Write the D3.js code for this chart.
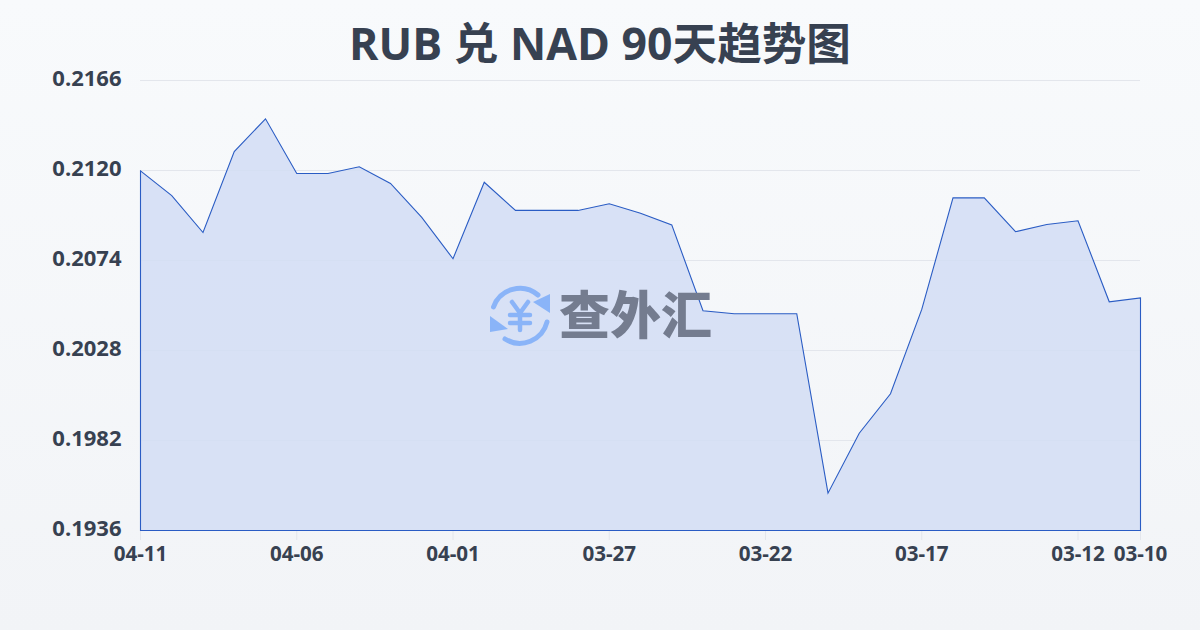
<!DOCTYPE html>
<html><head><meta charset="utf-8">
<style>html,body{margin:0;padding:0;width:1200px;height:630px;overflow:hidden}svg{display:block}</style>
<script src="https://cdn.jsdelivr.net/npm/d3@7/dist/d3.min.js"></script></head><body>
<svg id="c" width="1200" height="630"></svg>
<script>
const titleText = "RUB 兑 NAD 90天趋势图";
const dates = ["04-11","04-10","04-09","04-08","04-07","04-06","04-05","04-04","04-03","04-02","04-01","03-31","03-30","03-29","03-28","03-27","03-26","03-25","03-24","03-23","03-22","03-21","03-20","03-19","03-18","03-17","03-16","03-15","03-14","03-13","03-12","03-11","03-10"];
const rates = [0.21198,0.21072,0.20883,0.21297,0.21464,0.21185,0.21185,0.21219,0.21134,0.20960,0.20749,0.21140,0.20996,0.20996,0.20996,0.21030,0.20982,0.20922,0.20483,0.20468,0.20468,0.20468,0.19551,0.19857,0.20059,0.20490,0.21060,0.21060,0.20887,0.20924,0.20943,0.20529,0.20549];
const yTicks = [0.1936,0.1982,0.2028,0.2074,0.2120,0.2166];
const xTicks = ["04-11","04-06","04-01","03-27","03-22","03-17","03-12","03-10"];
const logoText = "查外汇";

const svg = d3.select("#c");
const defs = svg.append("defs");
const bg = defs.append("linearGradient").attr("id","bg").attr("x1",0).attr("y1",0).attr("x2",0).attr("y2",1);
bg.append("stop").attr("offset",0).attr("stop-color","#f8fafc");
bg.append("stop").attr("offset",1).attr("stop-color","#f2f4f7");
svg.append("rect").attr("width",1200).attr("height",630).attr("fill","url(#bg)");

const latin = "'Open Sans','Noto Sans CJK SC',sans-serif";
const ink = "#374151";
svg.append("text").attr("x",600).attr("y",60).attr("text-anchor","middle")
  .attr("font-family",latin).attr("font-weight",700)
  .attr("font-size",44.6).attr("fill",ink).text(titleText);

const x = d3.scalePoint().domain(dates).range([140,1140]);
const y = d3.scaleLinear().domain([0.1936,0.2166]).range([530,80]);

// grid
svg.append("g").selectAll("line").data(yTicks).join("line")
  .attr("x1",140).attr("x2",1140).attr("y1",d=>y(d)+0.5).attr("y2",d=>y(d)+0.5)
  .attr("stroke","#e3e6ec").attr("stroke-width",1);
// ticks
svg.append("g").selectAll("line").data(xTicks).join("line")
  .attr("x1",d=>x(d)+0.5).attr("x2",d=>x(d)+0.5).attr("y1",530).attr("y2",540)
  .attr("stroke","#e3e6ec").attr("stroke-width",1);

const xs = dates.map(d=>x(d)+0.5);
const area = d3.area().x((d,i)=>xs[i]).y0(y(0.1936)+0.5).y1(d=>y(d)+0.5);
svg.append("path").datum(rates).attr("d",area)
  .attr("fill","#d2ddf5").attr("fill-opacity",0.85)
  .attr("stroke","#2a5cc4").attr("stroke-width",1.1).attr("stroke-linejoin","miter");

// y labels
svg.append("g").selectAll("text").data(yTicks).join("text")
  .attr("x",121.5).attr("y",d=>y(d)+6).attr("text-anchor","end")
  .attr("font-family",latin).attr("font-weight",700).attr("font-size",22).attr("fill",ink)
  .text(d=>d.toFixed(4));
// x labels
svg.append("g").selectAll("text").data(xTicks).join("text")
  .attr("x",d=>x(d)+0.5).attr("y",561).attr("text-anchor","middle")
  .attr("font-family",latin).attr("font-weight",700).attr("font-size",20.6).attr("fill",ink)
  .text(d=>d);

// logo
const logo = svg.append("g");
const blue = "#8ab4f8";
const icon = logo.append("g").attr("transform","translate(520,315)").attr("fill","none").attr("stroke",blue).attr("stroke-linecap","round");
icon.append("path").attr("stroke-width",5).attr("d","M-26.5,-8 A28,28 0 0 1 18,-20");
icon.append("path").attr("stroke-width",5).attr("d","M27,7 A28,28 0 0 1 -15,24");
icon.append("path").attr("fill",blue).attr("stroke","none").attr("d","M30,-21 L30,-2 L13,-13 Z");
icon.append("path").attr("fill",blue).attr("stroke","none").attr("d","M-30,1 L-30,17 L-12,14 Z");
icon.append("path").attr("stroke-width",4.5).attr("d","M-8,-13 L0,-2 L8,-13 M0,-2 L0,15 M-10,0 L10,0 M-10,8 L10,8");
logo.append("text").attr("x",559).attr("y",334).attr("font-family","'Noto Sans CJK SC'").attr("font-weight",900)
  .attr("font-size",51).attr("fill","#747c8f").text(logoText);
</script></body></html>
